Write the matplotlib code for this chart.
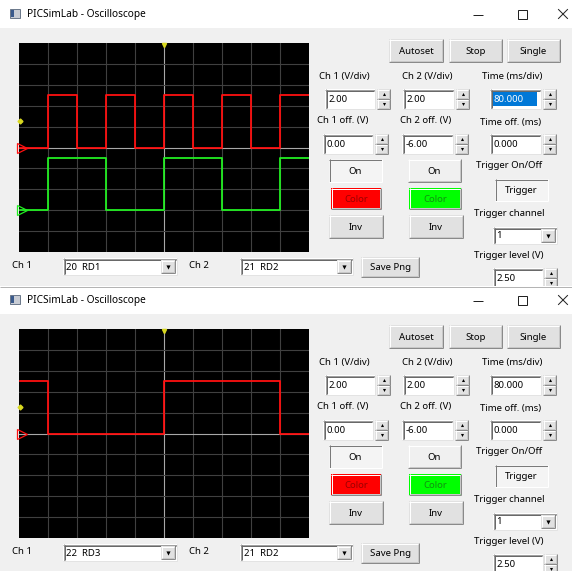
import matplotlib
matplotlib.use('Agg')
import matplotlib.pyplot as plt
from matplotlib.patches import Rectangle

plt.rcParams['font.family'] = ['Noto Sans', 'DejaVu Sans']

W, H = 572, 571

# ---- data ----
title = 'PICSimLab - Oscilloscope'
time_div = 80.0          # ms/div
volt_div = [2.00, 2.00]  # V/div, ch1 / ch2
volt_off = [0.00, -6.00] # V
time_off = 0.000
trig_level = 2.50
trig_channel = '1'

# window 1: RD1 on ch1, RD2 on ch2 (edge times in ms, logic level in V)
top_t = [4, 80, 160, 240, 320, 400, 480, 560, 640, 720, 800]
top_ch1 = [0, 5, 0, 5, 0, 5, 0, 5, 0, 5, 5]
top_ch2 = [0, 5, 5, 0, 0, 5, 5, 0, 0, 5, 5]
top_pins = ['20  RD1', '21  RD2']

# window 2: RD3 on ch1
bot_t = [4, 80, 400, 720, 800]
bot_ch1 = [5, 0, 5, 0, 0]
bot_pins = ['22  RD3', '21  RD2']

FS = 6.9
PX = 0.72  # one pixel in points


def hline(ax, x0, x1, y, c, z):
    ax.plot([x0, x1], [y, y], color=c, lw=PX, solid_capstyle='butt', zorder=z)


def vline(ax, x, y0, y1, c, z):
    ax.plot([x, x], [y0, y1], color=c, lw=PX, solid_capstyle='butt', zorder=z)


def button(ax, x0, y0, x1, y1, label, z, fill='#e1e1e1', tc='black', sunken=False):
    ax.add_patch(Rectangle((x0, y0), x1 - x0, y1 - y0, fc=fill, ec='none', zorder=z))
    if sunken:
        tl, br = '#7a7a7a', '#ffffff'
    else:
        tl, br = '#ffffff', '#8a8a8a'
    hline(ax, x0, x1, y0 + 0.5, tl, z + 0.1)
    vline(ax, x0 + 0.5, y0, y1, tl, z + 0.1)
    hline(ax, x0, x1, y1 - 0.5, br, z + 0.1)
    vline(ax, x1 - 0.5, y0, y1, br, z + 0.1)
    if not sunken:
        hline(ax, x0 + 1, x1 - 1, y1 - 1.5, '#c8c8c8', z + 0.1)
        vline(ax, x1 - 1.5, y0 + 1, y1 - 1, '#c8c8c8', z + 0.1)
    if label:
        ax.text((x0 + x1) / 2, (y0 + y1) / 2 + 0.5, label, ha='center', va='center',
                fontsize=FS, color=tc, zorder=z + 0.2)


def textbox(ax, x0, y0, x1, y1, text, z, sel=False):
    ax.add_patch(Rectangle((x0, y0), x1 - x0, y1 - y0, fc='white', ec='none', zorder=z))
    hline(ax, x0, x1, y0 + 0.5, '#a0a0a0', z + 0.1)
    vline(ax, x0 + 0.5, y0, y1, '#a0a0a0', z + 0.1)
    hline(ax, x0 + 1, x1 - 1, y0 + 1.5, '#696969', z + 0.1)
    vline(ax, x0 + 1.5, y0 + 1, y1 - 1, '#696969', z + 0.1)
    hline(ax, x0, x1, y1 - 0.5, '#e3e3e3', z + 0.1)
    vline(ax, x1 - 0.5, y0, y1, '#e3e3e3', z + 0.1)
    tc = 'black'
    if sel:
        ax.add_patch(Rectangle((x0 + 3, y0 + 3), 44, y1 - y0 - 6, fc='#0078d7',
                               ec='none', zorder=z + 0.05))
        tc = 'white'
    ax.text(x0 + 3.5, (y0 + y1) / 2 + 0.5, text, ha='left', va='center',
            fontsize=FS, color=tc, zorder=z + 0.2)


def spin(ax, x0, y0, x1, y1, z):
    ym = (y0 + y1) / 2
    button(ax, x0, y0, x1, ym, '', z)
    button(ax, x0, ym, x1, y1, '', z)
    cx = (x0 + x1) / 2
    ax.plot(cx, (y0 + ym) / 2, marker='^', ms=2.2, color='black', mew=0, zorder=z + 0.3)
    ax.plot(cx, (ym + y1) / 2, marker='v', ms=2.2, color='black', mew=0, zorder=z + 0.3)


def combo(ax, x0, y0, x1, y1, text, z):
    textbox(ax, x0, y0, x1, y1, text, z)
    button(ax, x1 - 16, y0 + 2, x1 - 2, y1 - 2, '', z + 0.3)
    ax.plot(x1 - 9, (y0 + y1) / 2, marker='v', ms=3.0, color='black', mew=0, zorder=z + 0.6)


def label(ax, cx, cy, text, z, ha='center'):
    ax.text(cx, cy, text, ha=ha, va='center', fontsize=FS, color='black', zorder=z)


def draw_window(ax, dy, pins, sel, z):
    # title bar + body
    ax.add_patch(Rectangle((0, dy), W, 28, fc='white', ec='none', zorder=z))
    ax.add_patch(Rectangle((0, dy + 28), W, 300, fc='#f0f0f0', ec='none', zorder=z))
    if dy > 0:
        hline(ax, 0, W, dy + 0.5, '#b4b4b4', z + 0.5)
    ax.add_patch(Rectangle((10, dy + 9), 10, 9, fc='#c8ccd4', ec='#6d7a8c', lw=PX, zorder=z + 0.5))
    ax.add_patch(Rectangle((11, dy + 10), 3, 7, fc='#3a5a8c', ec='none', zorder=z + 0.6))
    ax.text(27, dy + 14.5, title, ha='left', va='center', fontsize=7.3, zorder=z + 0.5)
    hline(ax, 473, 483, dy + 14.5, '#222222', z + 0.5)
    ax.add_patch(Rectangle((517.5, dy + 9.5), 9, 9, fc='none', ec='#222222', lw=PX, zorder=z + 0.5))
    ax.plot([558.5, 567.5], [dy + 9.5, dy + 18.5], color='#222222', lw=PX, zorder=z + 0.5)
    ax.plot([558.5, 567.5], [dy + 18.5, dy + 9.5], color='#222222', lw=PX, zorder=z + 0.5)

    zz = z + 1
    button(ax, 389, dy + 39, 443, dy + 62, 'Autoset', zz)
    button(ax, 449, dy + 39, 502, dy + 62, 'Stop', zz)
    button(ax, 507, dy + 39, 560, dy + 62, 'Single', zz)

    label(ax, 344, dy + 77, 'Ch 1 (V/div)', zz)
    label(ax, 427, dy + 77, 'Ch 2 (V/div)', zz)
    label(ax, 512, dy + 77, 'Time (ms/div)', zz)
    textbox(ax, 325, dy + 89, 375, dy + 109, '%.2f' % volt_div[0], zz)
    spin(ax, 377, dy + 89, 390, dy + 109, zz)
    textbox(ax, 403, dy + 89, 454, dy + 109, '%.2f' % volt_div[1], zz)
    spin(ax, 456, dy + 89, 469, dy + 109, zz)
    textbox(ax, 490, dy + 89, 541, dy + 109, '%.3f' % time_div, zz, sel=sel)
    spin(ax, 543, dy + 89, 556, dy + 109, zz)

    label(ax, 343, dy + 121, 'Ch 1 off. (V)', zz)
    label(ax, 426, dy + 121, 'Ch 2 off. (V)', zz)
    label(ax, 511, dy + 122, 'Time off. (ms)', zz)
    textbox(ax, 323, dy + 134, 373, dy + 154, '%.2f' % volt_off[0], zz)
    spin(ax, 375, dy + 134, 388, dy + 154, zz)
    textbox(ax, 402, dy + 134, 453, dy + 154, '%.2f' % volt_off[1], zz)
    spin(ax, 455, dy + 134, 468, dy + 154, zz)
    textbox(ax, 490, dy + 134, 541, dy + 154, '%.3f' % time_off, zz)
    spin(ax, 543, dy + 134, 556, dy + 154, zz)

    button(ax, 329, dy + 159, 382, dy + 182, 'On', zz, fill='#f4f4f4', sunken=True)
    button(ax, 408, dy + 159, 461, dy + 182, 'On', zz, fill='#f0f0f0')
    button(ax, 331, dy + 188, 381, dy + 209, 'Color', zz, fill='#ff0000', tc='#9a0000')
    button(ax, 409, dy + 188, 461, dy + 209, 'Color', zz, fill='#00ff00', tc='#109010')
    button(ax, 329, dy + 215, 383, dy + 238, 'Inv', zz)
    button(ax, 409, dy + 215, 463, dy + 238, 'Inv', zz)

    label(ax, 509, dy + 166, 'Trigger On/Off', zz)
    button(ax, 495, dy + 179, 548, dy + 201, 'Trigger', zz, fill='#f4f4f4', sunken=True)
    label(ax, 509, dy + 213, 'Trigger channel', zz)
    combo(ax, 493, dy + 227, 557, dy + 244, trig_channel, zz)
    label(ax, 509, dy + 255, 'Trigger level (V)', zz)
    textbox(ax, 493, dy + 268, 543, dy + 288, '%.2f' % trig_level, zz)
    spin(ax, 544, dy + 268, 557, dy + 288, zz)

    label(ax, 12, dy + 266, 'Ch 1', zz, ha='left')
    combo(ax, 63, dy + 258, 177, dy + 275, pins[0], zz)
    label(ax, 189, dy + 266, 'Ch 2', zz, ha='left')
    combo(ax, 240, dy + 258, 353, dy + 275, pins[1], zz)
    button(ax, 361, dy + 257, 419, dy + 277, 'Save Png', zz)


def scope(fig, y0, traces):
    x0, x1, y1 = 19, 309, y0 + 209
    sc = fig.add_axes([x0 / W, 1 - y1 / H, (x1 - x0) / W, (y1 - y0) / H])
    sc.set_facecolor('black')
    sc.set_xlim(0, 10 * time_div)
    sc.set_ylim(-5 * volt_div[0], 5 * volt_div[0])
    for i in range(1, 10):
        c = '#a8a8a8' if i == 5 else '#404040'
        sc.axvline(i * time_div, color=c, lw=0.8, zorder=1)
    for j in range(-4, 5):
        c = '#a8a8a8' if j == 0 else '#404040'
        sc.axhline(j * volt_div[0], color=c, lw=0.8, zorder=1)
    mx = 0.35 * time_div / 29  # a few pixels in from the left edge
    for t, v, off, col in traces:
        sc.step(t, [a + off for a in v], where='post', color=col, lw=1.3, zorder=3)
        sc.plot(mx * 8, off, marker='>', ms=7, mfc='none', mec=col, mew=0.9,
                clip_on=False, zorder=4)
    sc.plot(mx * 3, trig_level, marker='D', ms=2.5, color='#d8d820', clip_on=False, zorder=5)
    sc.plot(5 * time_div, 5 * volt_div[0] - 0.2, marker='v', ms=3, color='#d8d820',
            clip_on=False, zorder=5)
    sc.set_xticks([])
    sc.set_yticks([])
    for s in sc.spines.values():
        s.set_visible(False)


fig = plt.figure(figsize=(W / 100, H / 100), dpi=100)
bg = fig.add_axes([0, 0, 1, 1])
bg.set_xlim(0, W)
bg.set_ylim(H, 0)
bg.axis('off')

draw_window(bg, 0, top_pins, True, 0)
draw_window(bg, 286, bot_pins, False, 10)

scope(fig, 43, [(top_t, top_ch1, volt_off[0], '#ff1010'),
                (top_t, top_ch2, volt_off[1], '#22ee22')])
scope(fig, 329, [(bot_t, bot_ch1, volt_off[0], '#ff1010')])

fig.savefig('out.png', dpi=100)
